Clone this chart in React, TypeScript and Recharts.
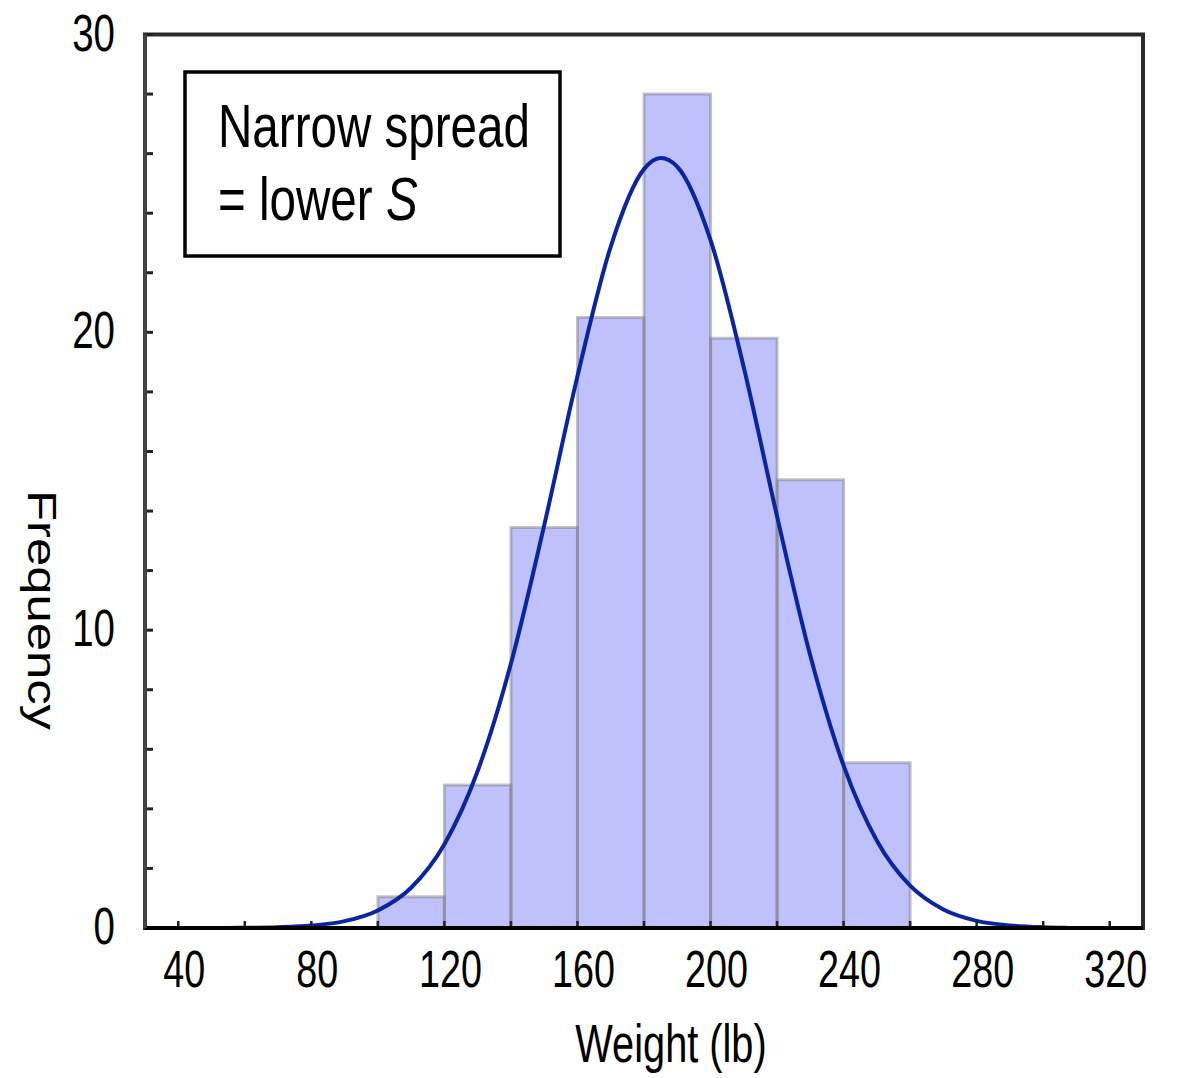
import { ComposedChart, Line, XAxis, YAxis, ReferenceArea } from "recharts";

// histogram bins (lb) and heights
const binStarts = [100, 120, 140, 160, 180, 200, 220, 240];
const binEnds = [120, 140, 160, 180, 200, 220, 240, 260];
const binHeights = [1.05, 4.8, 13.45, 20.5, 28, 19.8, 15.05, 5.55];

// fitted normal curve
const curveWeights = [55, 60, 70, 80, 90, 100, 110, 120, 130, 140, 150, 160, 170, 180, 185, 190, 200, 210, 220, 230, 240, 250, 260, 270, 280, 290, 300, 307];
const curveFreq = [0.004, 0.007, 0.026, 0.081, 0.23, 0.59, 1.35, 2.81, 5.27, 8.88, 13.52, 18.53, 22.88, 25.48, 25.85, 25.56, 23.1, 18.82, 13.82, 9.14, 5.45, 2.93, 1.42, 0.62, 0.24, 0.086, 0.028, 0.011];

const xTicks = [40, 60, 80, 100, 120, 140, 160, 180, 200, 220, 240, 260, 280, 300, 320];
const xLabels = [40, 80, 120, 160, 200, 240, 280, 320];
const yTicks = [0, 2, 4, 6, 8, 10, 12, 14, 16, 18, 20, 22, 24, 26, 28, 30];
const yLabels = [0, 10, 20, 30];

// the wrapper is pulled over the body margin, so chart coords = page coords
const W = 1178;
const H = 1078;
const PLOT_LEFT = 145;
const PLOT_RIGHT = 1143;
const PLOT_TOP = 34.5;
const PLOT_BOTTOM = 928;
const FONT = "'Liberation Sans', Arial, sans-serif";
const BAR_FILL = "#bfc1fc";
const CURVE = "#0b24a0";

const curveData = curveWeights.map((w, i) => ({ x: w, y: curveFreq[i] }));

function XTick(props: any) {
  const { x, payload } = props;
  const y = PLOT_BOTTOM;
  const v = payload.value;
  return (
    <g>
      <line x1={x} y1={y} x2={x} y2={y - 7} stroke="#222" strokeWidth={2.5} />
      {xLabels.includes(v) ? (
        <text
          transform={`translate(${x + 6},${y + 59}) scale(0.74,1)`}
          textAnchor="middle"
          fontFamily={FONT}
          fontSize={51}
          fill="#000"
        >
          {v}
        </text>
      ) : null}
    </g>
  );
}

function YTick(props: any) {
  const { y, payload } = props;
  const x = PLOT_LEFT;
  const v = payload.value;
  return (
    <g>
      <line x1={x} y1={y} x2={x + 8} y2={y} stroke="#222" strokeWidth={3} />
      {yLabels.includes(v) ? (
        <text
          transform={`translate(${x - 30},${y + 16}) scale(0.74,1)`}
          textAnchor="end"
          fontFamily={FONT}
          fontSize={52}
          fill="#000"
        >
          {v}
        </text>
      ) : null}
    </g>
  );
}

export default function App() {
  return (
    <div style={{ position: "relative", left: -8, top: -8, width: W, height: H, background: "#fff" }}>
      <ComposedChart
        width={W}
        height={H}
        data={curveData}
        margin={{ top: PLOT_TOP, right: W - PLOT_RIGHT, bottom: H - PLOT_BOTTOM - 10, left: PLOT_LEFT - 10 }}
      >
        {binStarts.map((s, i) => (
          <ReferenceArea
            key={`f-${s}`}
            x1={s}
            x2={binEnds[i]}
            y1={0}
            y2={binHeights[i]}
            fill={BAR_FILL}
            fillOpacity={1}
            stroke="none"
          />
        ))}
        {binStarts.map((s, i) => (
          <ReferenceArea
            key={`s-${s}`}
            x1={s}
            x2={binEnds[i]}
            y1={0}
            y2={binHeights[i]}
            fill="none"
            stroke="#7a7a7a"
            strokeOpacity={0.45}
            strokeWidth={3}
          />
        ))}
        <ReferenceArea x1={30} x2={330} y1={0} y2={30} fill="none" stroke="#2a2a2a" strokeWidth={4} />
        <Line
          type="monotone"
          dataKey="y"
          stroke={CURVE}
          strokeWidth={4}
          dot={false}
          isAnimationActive={false}
        />
        <XAxis
          type="number"
          dataKey="x"
          domain={[30, 330]}
          ticks={xTicks}
          interval={0}
          height={10}
          tickSize={0}
          tickMargin={0}
          tickLine={false}
          axisLine={false}
          tick={XTick}
        />
        <YAxis
          type="number"
          domain={[0, 30]}
          ticks={yTicks}
          interval={0}
          width={10}
          tickSize={0}
          tickMargin={0}
          tickLine={false}
          axisLine={false}
          tick={YTick}
        />
      </ComposedChart>

      <svg
        width={W}
        height={H}
        style={{ position: "absolute", left: 0, top: 0, pointerEvents: "none" }}
      >
        <line x1={PLOT_LEFT} y1={PLOT_BOTTOM} x2={PLOT_RIGHT} y2={PLOT_BOTTOM} stroke="#000" strokeWidth={4} />
        <line x1={PLOT_LEFT} y1={PLOT_TOP} x2={PLOT_LEFT} y2={PLOT_BOTTOM} stroke="#444" strokeWidth={3.5} />
        <rect x={185} y={72} width={375} height={184} fill="#fff" stroke="#000" strokeWidth={3.5} />
        <text transform="translate(218,147) scale(0.78,1)" fontFamily={FONT} fontSize={61} fill="#000">
          Narrow spread
        </text>
        <text transform="translate(218,220) scale(0.78,1)" fontFamily={FONT} fontSize={61} fill="#000">
          = lower <tspan fontStyle="italic">S</tspan>
        </text>
        <text
          transform="translate(671,1062) scale(0.75,1)"
          textAnchor="middle"
          fontFamily={FONT}
          fontSize={53}
          fill="#000"
        >
          Weight (lb)
        </text>
        <text
          transform="translate(28,610) rotate(90) scale(1.27,1)"
          textAnchor="middle"
          fontFamily={FONT}
          fontSize={40}
          fill="#000"
        >
          Frequency
        </text>
      </svg>
    </div>
  );
}
